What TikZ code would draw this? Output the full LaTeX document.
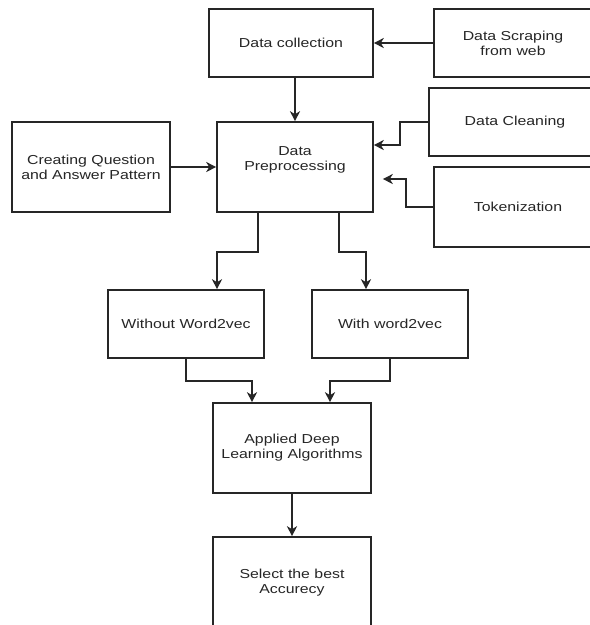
\documentclass[tikz,border=0pt]{standalone}
\usepackage{fontspec}
\setmainfont[FakeStretch=1.22]{Liberation Sans}
\usetikzlibrary{arrows.meta}
\definecolor{ln}{HTML}{262626}
\definecolor{tx}{HTML}{262626}
\tikzset{
  box/.style={draw=ln, line width=1.6pt, fill=white, inner sep=0pt, align=center,
    text=tx, font=\fontsize{13}{15}\selectfont},
  txt/.style={inner sep=0pt, align=center, text=tx, font=\fontsize{13}{15}\selectfont},
  arr/.style={draw=ln, line width=1.6pt, -{Stealth[length=10pt,width=10pt,inset=3pt]}},
}
\begin{document}
\begin{tikzpicture}[x=1pt,y=-1pt]
\useasboundingbox (0,0) rectangle (590,625);
\fill[white] (0,0) rectangle (590,625);
\clip (0,0) rectangle (590,625);
% boxes
\node[box, minimum width=164, minimum height=68] (coll) at (291,43) {Data collection};
\node[box, minimum width=158, minimum height=68] (scrap) at (513,43) {Data Scraping\\from web};
\node[box, minimum width=172, minimum height=68] (clean) at (515,122) {Data Cleaning};
\node[box, minimum width=168, minimum height=80] (tok) at (518,207) {Tokenization};
\node[box, minimum width=156, minimum height=90] (prep) at (295,167) {};
\node[txt] (preptxt) at (295,160) {Data\\Preprocessing};
\node[box, minimum width=158, minimum height=90] (qa) at (91,167) {Creating Question\\and Answer Pattern};
\node[box, minimum width=156, minimum height=68] (wo) at (186,324) {Without Word2vec};
\node[box, minimum width=156, minimum height=68] (wi) at (390,324) {With word2vec};
\node[box, minimum width=158, minimum height=90] (app) at (292,448) {Applied Deep\\Learning Algorithms};
\node[box, minimum width=158, minimum height=92] (sel) at (292,583) {Select the best\\Accurecy};
% connectors
\draw[arr] (scrap.west) -- (coll.east |- scrap.west);
\draw[arr] (coll.south -| prep.north) -- (prep.north);
\draw[arr] (clean.west) -- ++(-28,0) |- ([yshift=22pt]prep.east);
\draw[arr] (tok.west) -- ++(-27,0) |- ([xshift=9pt,yshift=-12pt]prep.east);
\draw[arr] (qa.east) -- (prep.west |- qa.east);
\draw[arr] ([xshift=-37pt]prep.south) -- ++(0,39) -| ([xshift=31pt]wo.north);
\draw[arr] ([xshift=44pt]prep.south) -- ++(0,39) -| ([xshift=-24pt]wi.north);
\draw[arr] (wo.south) -- ++(0,22) -| ([xshift=-40pt]app.north);
\draw[arr] (wi.south) -- ++(0,22) -| ([xshift=38pt]app.north);
\draw[arr] (app.south) -- (sel.north);
\end{tikzpicture}
\end{document}
